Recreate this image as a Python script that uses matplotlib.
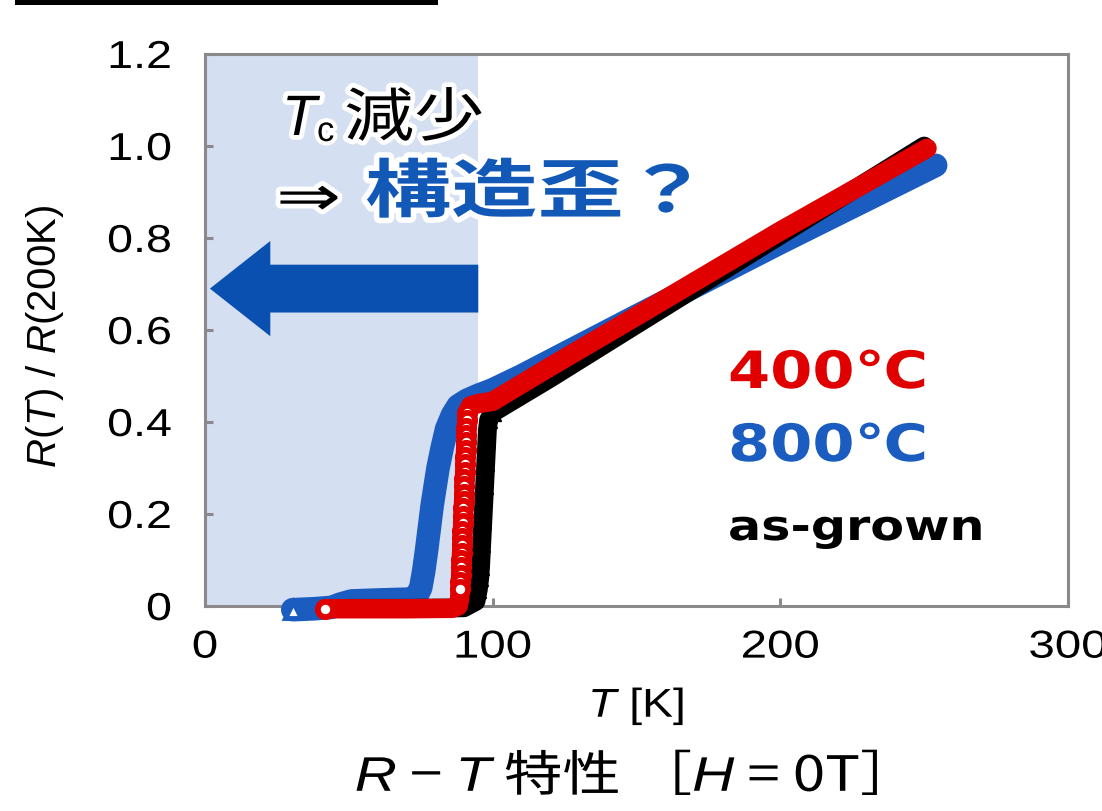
import matplotlib
matplotlib.use("Agg")
import matplotlib.pyplot as plt
from matplotlib import patheffects
from matplotlib.transforms import Affine2D
from matplotlib.patches import FancyArrow
from matplotlib.lines import Line2D

W, H = 1102, 812

plt.rcParams['font.family'] = ['Liberation Sans', 'Noto Sans CJK JP', 'DejaVu Sans']
plt.rcParams['mathtext.fontset'] = 'custom'
plt.rcParams['mathtext.rm'] = 'Liberation Sans'
plt.rcParams['mathtext.it'] = 'Liberation Sans:italic'

# ---- normalised resistance R(T)/R(200K), recorded on cooling ----
temp_grown = [250, 200, 150, 120, 100, 98.6, 98.2, 98.0, 97.8, 97.6, 97.4, 97.2, 97.0,
              96.8, 96.6, 96.4, 96.2, 96.0, 95.8, 95.5, 95.0, 94.2, 90, 70, 50]
ratio_grown = [1.0, 0.806, 0.612, 0.495, 0.42, 0.405, 0.385, 0.36, 0.335, 0.31, 0.285,
               0.26, 0.235, 0.21, 0.185, 0.16, 0.135, 0.11, 0.085, 0.06, 0.035, 0.01,
               -0.004, -0.005, -0.005]

temp_400 = [251, 200, 150, 120, 100, 95, 92.3,
            91.2, 91.0, 90.9, 90.8, 90.7, 90.6, 90.5, 90.4, 90.3, 90.2, 90.1, 90.0,
            89.9, 89.8, 89.7, 89.6, 89.5, 89.4, 89.3, 89.2, 89.1, 89.0, 88.9, 88.8, 88.7,
            88.5, 88.0, 86, 70, 55, 41.7]
ratio_400 = [0.995, 0.815, 0.63, 0.52, 0.445, 0.44, 0.435,
             0.420, 0.404, 0.388, 0.372, 0.356, 0.340, 0.324, 0.308, 0.292, 0.276, 0.260,
             0.244, 0.228, 0.212, 0.196, 0.180, 0.164, 0.148, 0.132, 0.116, 0.100, 0.084,
             0.068, 0.052, 0.036,
             0.015, 0.0, -0.005, -0.006, -0.006, -0.006]

temp_800 = [254, 200, 150, 110, 100, 95, 91, 88, 86, 84, 82.5, 81, 80, 79, 78, 77, 76,
            75, 73.5, 71, 60, 51, 47, 44, 38, 30.5]
ratio_800 = [0.958, 0.79, 0.63, 0.50, 0.47, 0.458, 0.447, 0.435, 0.415, 0.385, 0.345,
             0.30, 0.26, 0.22, 0.17, 0.12, 0.075, 0.04, 0.02, 0.015, 0.013, 0.011, 0.004,
             -0.003, -0.006, -0.008]

x_ticks = [0, 100, 200, 300]
x_tick_labels = ['0', '100', '200', '300']
y_ticks = [0, 0.2, 0.4, 0.6, 0.8, 1.0, 1.2]
y_tick_labels = ['0', '0.2', '0.4', '0.6', '0.8', '1.0', '1.2']
tc_shift_window = (0, 95)

RED = '#e00000'
BLUE = '#1a5cbf'
BLUE_TEXT = '#1258b6'
ARROW = '#0a50b0'
SHADE = '#d5dff2'
SPINE = '#8a8a8a'


class Widen(patheffects.AbstractPathEffect):
    """Stretch glyph outlines horizontally, optionally with a halo."""

    def __init__(self, sx=1.0, anchor='left', halo=0.0, halo_color='white'):
        super().__init__()
        self.sx = sx
        self.anchor = anchor
        self.halo = halo
        self.halo_color = halo_color

    def draw_path(self, renderer, gc, tpath, affine, rgbFace=None):
        ext = tpath.get_extents()
        pivot = {'left': 0.0, 'center': 0.5 * (ext.x0 + ext.x1),
                 'right': ext.x1}[self.anchor]
        aff = Affine2D().translate(-pivot, 0).scale(self.sx, 1).translate(pivot, 0) + affine
        if self.halo:
            gc0 = renderer.new_gc()
            gc0.copy_properties(gc)
            gc0.set_linewidth(self.halo)
            gc0.set_foreground(self.halo_color)
            gc0.set_joinstyle('round')
            renderer.draw_path(gc0, tpath, aff, rgbFace)
            gc0.restore()
        renderer.draw_path(gc, tpath, aff, rgbFace)


def fig_text(x, y, s, size, sx=1.0, halo=0.0, ha='left', va='baseline', **kw):
    t = fig.text(x / W, 1 - y / H, s, fontsize=size, ha=ha, va=va, **kw)
    t.set_path_effects([Widen(sx, anchor=ha, halo=halo)])
    return t


def transition_idx(values, lo=0.03, hi=0.43):
    return [i for i, v in enumerate(values) if lo < v < hi]


fig = plt.figure(figsize=(W / 100, H / 100), dpi=100)
ax = fig.add_axes([205 / W, 1 - 607 / H, 863 / W, 552 / H])

ax.set_xlim(0, 300)
ax.set_ylim(0, 1.2)
ax.axvspan(*tc_shift_window, color=SHADE, lw=0, zorder=0)

ax.add_patch(FancyArrow(95, 0.69, -93.3, 0, width=0.104, head_width=0.207,
                        head_length=21, length_includes_head=True,
                        color=ARROW, lw=0, zorder=1))

# 800 C anneal
ax.plot(temp_800, ratio_800, color=BLUE, lw=17, solid_capstyle='round',
        solid_joinstyle='round', marker='^', ms=12, mfc='white', mec=BLUE, mew=3.5,
        markevery=[len(temp_800) - 1], clip_on=False, zorder=3)
# as-grown
ax.plot(temp_grown, ratio_grown, color='black', lw=13.5, solid_capstyle='round',
        solid_joinstyle='round', marker='^', ms=12, mfc='black', mec='black',
        markevery=transition_idx(ratio_grown), clip_on=False, zorder=4)
# 400 C anneal
ax.plot(temp_400, ratio_400, color=RED, lw=14, solid_capstyle='round',
        solid_joinstyle='round', marker='o', ms=11, mfc='white', mec=RED, mew=4.2,
        markevery=transition_idx(ratio_400) + [len(temp_400) - 1],
        clip_on=False, zorder=5)

# axes frame and ticks
for sp in ax.spines.values():
    sp.set_color(SPINE)
    sp.set_linewidth(2.2)
ax.set_xticks(x_ticks, x_tick_labels)
ax.set_yticks(y_ticks, y_tick_labels)
ax.tick_params(direction='in', length=6, width=2.2, color=SPINE, labelsize=28,
               labelcolor='black', top=False, right=False)
ax.tick_params(axis='y', pad=24)
ax.tick_params(axis='x', pad=17)
for lab in ax.get_xticklabels():
    lab.set_path_effects([Widen(1.22, 'center')])
for lab in ax.get_yticklabels():
    lab.set_path_effects([Widen(1.2, 'right')])

ax.set_xlabel('$T$ [K]', fontsize=29)
ax.xaxis.set_label_coords(0.5, -0.143)
ax.xaxis.label.set_path_effects([Widen(1.15, 'center')])
ax.set_ylabel('$R$($T$) / $R$(200K)', fontsize=29)
ax.yaxis.set_label_coords(-0.161, 0.491)

# annotations
fig_text(282, 136, 'T', 41, halo=7, style='italic', family='Liberation Sans')
fig_text(317, 142, 'c', 25, halo=6, family='Liberation Sans')
fig_text(344, 137, '減少', 42, sx=1.2, halo=7, family='Noto Sans CJK JP')
fig_text(276, 216, '⇒', 40, sx=1.4, halo=7, family='DejaVu Sans')
fig_text(365, 213, '構造歪？', 46, sx=1.35, halo=8, family='Noto Sans CJK JP',
         weight='bold', color=BLUE_TEXT)

fig_text(728, 389, '400℃', 37, sx=1.18, family=['DejaVu Sans', 'Noto Sans CJK JP'],
         weight='bold', color=RED)
fig_text(728, 462, '800℃', 37, sx=1.18, family=['DejaVu Sans', 'Noto Sans CJK JP'],
         weight='bold', color=BLUE)
fig_text(728, 541, 'as-grown', 30, sx=1.18, family='DejaVu Sans', weight='bold',
         color='black')

fig_text(617, 792, '$R$ − $T$ 特性 ［$H$ = 0T］', 35, sx=1.2, ha='center',
         family='Noto Sans CJK JP')

# rule of the heading above the chart
fig.add_artist(Line2D([17 / W, 435 / W], [1 - 2.5 / H, 1 - 2.5 / H],
                      color='black', lw=3.6))

fig.savefig('out.png', dpi=100)
